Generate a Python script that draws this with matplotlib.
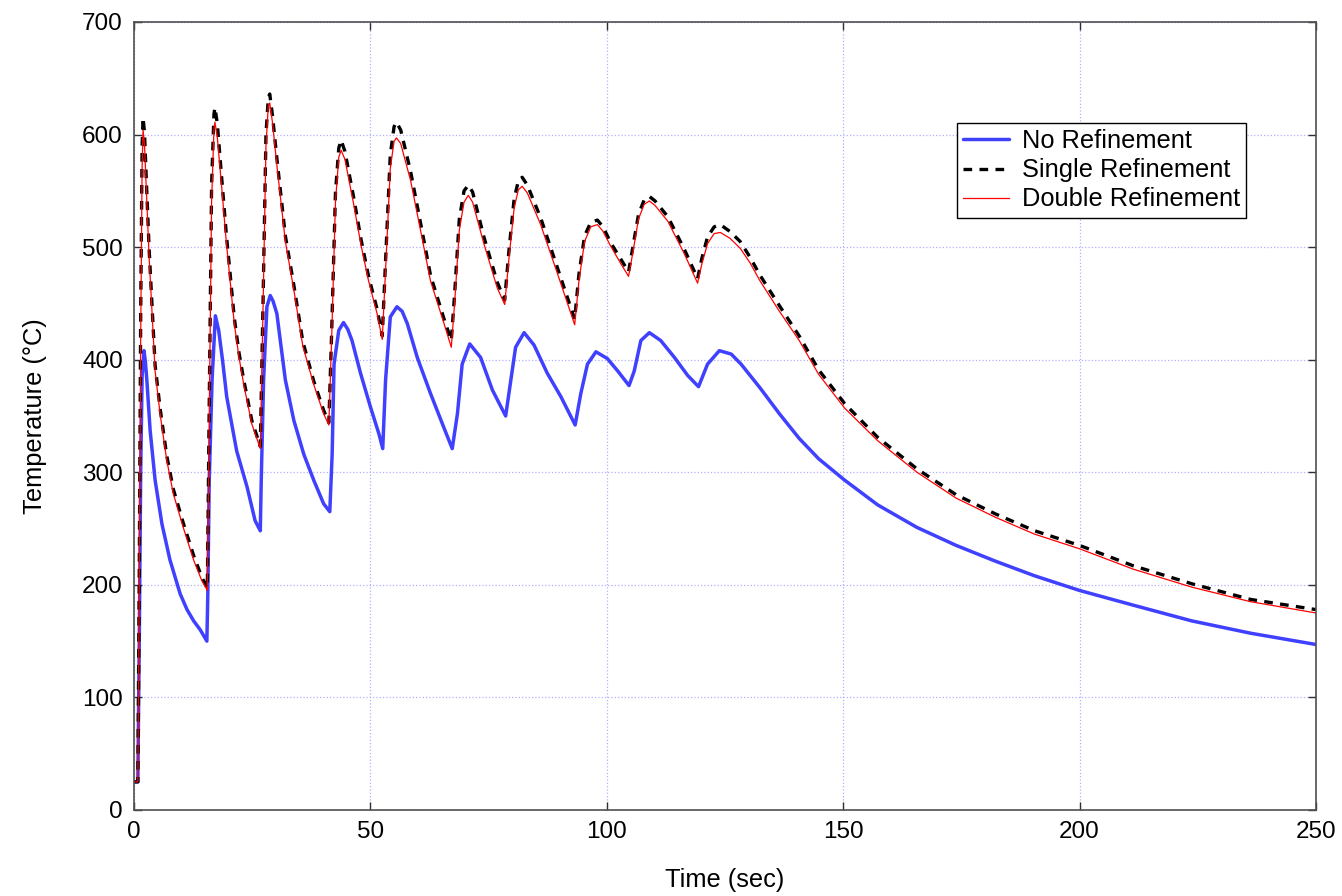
import matplotlib
matplotlib.use('Agg')
import matplotlib.pyplot as plt

plt.rcParams['font.family'] = ['Liberation Sans', 'DejaVu Sans']

# No refinement
t_none = [0, 0.8, 1.1, 1.4, 1.7, 2.1, 2.4, 2.7, 3.4, 4.45, 5.9, 7.6, 9.75, 11.2, 12.6, 14.0, 15.4,
          15.6, 15.9, 16.5, 17.2, 17.9, 18.7, 19.6, 21.7, 23.9, 25.6, 26.7,
          26.9, 27.4, 28.1, 28.8, 29.4, 30.2, 32.0, 33.8, 35.9, 38.0, 40.1, 41.4,
          41.9, 42.3, 43.3, 44.3, 45.2, 46.1, 47.9, 50.0, 51.8, 52.6,
          53.2, 54.2, 55.6, 56.7, 57.8, 59.9, 62.7, 65.5, 67.3,
          68.4, 69.4, 71.0, 73.3, 75.8, 78.6,
          79.7, 80.7, 82.5, 84.6, 87.4, 90.3, 93.3,
          94.5, 95.9, 97.7, 100.1, 102.3, 104.7,
          105.8, 107.2, 109.0, 111.4, 114.3, 117.1, 119.4,
          121.3, 123.8, 126.3, 128.4, 132.4, 136.5, 140.7, 144.8, 150.3, 157.3, 165.6,
          173.9, 182.2, 190.5, 200, 211.3, 223.7, 236.2, 250]
T_none = [25, 25, 150, 300, 385, 408, 398, 382, 337, 293, 254, 222, 192, 178, 168, 160, 150,
          192, 293, 382, 439, 426, 400, 367, 319, 287, 257, 248,
          293, 382, 447, 457, 452, 441, 382, 346, 316, 293, 272, 265,
          316, 396, 426, 433, 427, 417, 388, 358, 334, 321,
          382, 438, 447, 443, 432, 402, 370, 340, 321,
          352, 396, 414, 402, 373, 350,
          382, 411, 424, 413, 388, 367, 342,
          370, 396, 407, 401, 390, 377,
          390, 417, 424, 417, 402, 386, 376,
          396, 408, 405, 396, 375, 352, 330, 312, 293, 271, 251,
          235, 221, 208, 195, 182, 168, 157, 147]

# Single and double refinement share the same time samples
t_refined = [0, 0.8, 1.1, 1.4, 1.7, 1.9, 2.2, 2.7, 3.2, 3.7, 4.45, 5.5, 6.9, 8.3, 10.4, 12.6, 14.3, 15.5,
             15.9, 16.4, 16.9, 17.1, 17.6, 18.5, 19.5, 20.3, 21.2, 22.2, 23.2, 24.9, 26.7,
             27.3, 27.9, 28.4, 28.7, 29.3, 30.2, 32.0, 33.8, 35.7, 38.0, 40.1, 41.2,
             41.8, 42.6, 43.3, 43.8, 44.6, 46.5, 48.0, 49.6, 51.4, 52.5,
             53.2, 54.2, 55.0, 55.5, 56.4, 58.5, 61.3, 62.7, 65.5, 67.1,
             67.8, 68.8, 69.8, 70.7, 71.6, 74.0, 76.8, 78.4,
             79.3, 80.4, 81.3, 82.1, 83.2, 86.0, 89.6, 93.2,
             94.1, 95.3, 96.6, 98.0, 99.2, 100.8, 103.0, 104.6,
             105.5, 106.7, 107.9, 109.0, 110.2, 112.9, 116.4, 119.2,
             120.1, 121.3, 122.7, 124.0, 126.0, 128.2, 130.3, 132.4, 136.5, 140.7, 144.8,
             150.3, 157.3, 165.6, 173.9, 182.2, 190.5, 200, 211.3, 223.7, 236.2, 250]
T_single = [25, 25, 210, 440, 590, 615, 602, 548, 497, 456, 395, 357, 315, 285, 255, 226, 207, 197,
            360, 555, 618, 624, 610, 563, 512, 477, 437, 406, 382, 346, 323,
            455, 600, 633, 636, 616, 579, 510, 466, 416, 381, 355, 344,
            425, 548, 588, 595, 585, 543, 507, 474, 445, 421,
            488, 582, 607, 611, 604, 567, 506, 475, 437, 417,
            458, 525, 550, 555, 549, 509, 469, 453,
            497, 543, 559, 562, 555, 526, 481, 436,
            476, 510, 522, 524, 518, 504, 489, 478,
            500, 529, 542, 545, 541, 527, 498, 472,
            490, 509, 518, 520, 514, 505, 491, 475, 448, 421, 391,
            361, 331, 303, 280, 263, 248, 235, 217, 201, 187, 178]
T_double = [25, 25, 200, 420, 570, 604, 592, 540, 490, 450, 390, 352, 311, 281, 251, 222, 204, 195,
            350, 540, 605, 611, 598, 555, 505, 471, 432, 402, 378, 343, 321,
            450, 590, 626, 628, 610, 573, 505, 462, 412, 378, 352, 342,
            420, 540, 580, 586, 578, 537, 502, 470, 441, 418,
            480, 570, 594, 597, 592, 559, 500, 470, 433, 411,
            450, 515, 540, 546, 540, 503, 464, 449,
            490, 535, 551, 554, 548, 520, 476, 431,
            470, 505, 518, 520, 514, 501, 485, 474,
            495, 525, 538, 541, 537, 523, 494, 468,
            485, 503, 512, 513, 508, 499, 486, 470, 443, 417, 387,
            357, 328, 300, 277, 260, 245, 232, 214, 198, 185, 175]

fig = plt.figure(figsize=(13.42, 8.96), dpi=100)
ax = fig.add_axes([0.0999, 0.096, 0.8807, 0.8795])

ax.plot(t_none, T_none, color='#4040ff', lw=2.5, solid_joinstyle='round',
        solid_capstyle='round', label='No Refinement')
ax.plot(t_refined, T_single, color='black', lw=2.4, dashes=(2.6, 2.2),
        dash_joinstyle='round', label='Single Refinement')
ax.plot(t_refined, T_double, color='red', lw=0.9, solid_joinstyle='round',
        label='Double Refinement')

ax.set_xlim(0, 250)
ax.set_ylim(0, 700)
ax.set_xticks(range(0, 251, 50))
ax.set_yticks(range(0, 701, 100))
ax.grid(True, color='#b0b0ff', linestyle=':', linewidth=0.9)
ax.tick_params(direction='in', top=True, right=True, length=6, width=1.0,
               labelsize=17.5, pad=8, color='#303030')
for s in ax.spines.values():
    s.set_color('#505050')
    s.set_linewidth(1.2)

ax.set_xlabel('Time (sec)', fontsize=18.3, labelpad=18)
ax.set_ylabel('Temperature (°C)', fontsize=18.3, labelpad=25)

leg = ax.legend(loc='upper left', bbox_to_anchor=(0.6963, 0.8718), fontsize=18.3,
                fancybox=False, edgecolor='black', framealpha=1,
                handlelength=1.8, handletextpad=0.5, borderpad=0.25, labelspacing=0.2,
                borderaxespad=0)
leg.get_frame().set_linewidth(1.0)

fig.savefig('out.png', dpi=100)
